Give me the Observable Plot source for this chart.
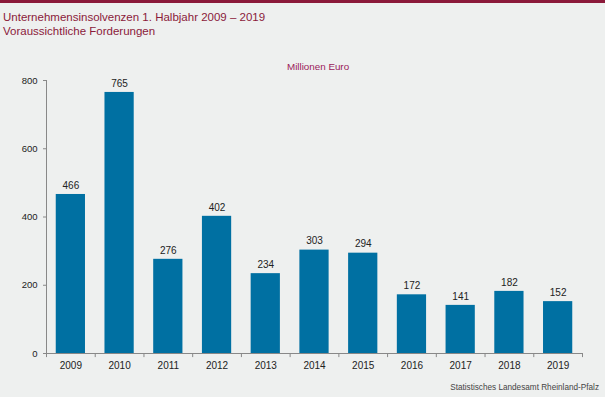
<!DOCTYPE html>
<html><head><meta charset="utf-8">
<script src="https://cdn.jsdelivr.net/npm/d3@7"></script>
<script src="https://cdn.jsdelivr.net/npm/@observablehq/plot@0.6"></script>
<style>
html,body{margin:0;padding:0;background:#eef0ef;}
#wrap{position:relative;width:605px;height:397px;overflow:hidden;background:#eef0ef;font-family:"Liberation Sans",Arial,sans-serif;}
#topbar{position:absolute;left:0;top:0;width:605px;height:3px;background:#8b1a3a;}
.t{position:absolute;white-space:nowrap;}
#title{left:3px;top:10px;font-size:11.5px;color:#8b1a3a;line-height:14px;}
#unit{left:287px;top:61px;font-size:9.8px;color:#9b1b5a;}
#src{right:6px;top:383px;font-size:8.2px;color:#444;}
svg{position:absolute;left:0;top:0;}
</style></head>
<body><div id="wrap"><div id="topbar"></div>
<div class="t" id="title">Unternehmensinsolvenzen 1. Halbjahr 2009 – 2019<br>Voraussichtliche Forderungen</div>
<div class="t" id="unit">Millionen Euro</div>
<div class="t" id="src">Statistisches Landesamt Rheinland-Pfalz</div>
</div>
<script>
const years = ["2009","2010","2011","2012","2013","2014","2015","2016","2017","2018","2019"];
const values = [466,765,276,402,234,303,294,172,141,182,152];
const yTicks = [0,200,400,600,800];
const data = years.map((y,i)=>({year:y,value:values[i]}));
const mL=46,mR=23,W=605;
const step=(W-mL-mR)/years.length;
const chart = Plot.plot({
  width:W,height:397,marginTop:80,marginBottom:44,marginLeft:mL,marginRight:mR,
  style:{background:"transparent",fontFamily:"Liberation Sans, Arial, sans-serif",fontSize:"10px",color:"#222"},
  x:{domain:years,paddingInner:0.4,paddingOuter:0.2,round:false,label:null},
  y:{domain:[0,800],label:null},
  marks:[
    Plot.barY(data,{x:"year",y:"value",fill:"#0070a2"}),
    Plot.text(data,{x:"year",y:"value",text:d=>String(d.value),dy:-9,fill:"#222",fontSize:10}),
    Plot.ruleY([0],{stroke:"#888"}),
    Plot.ruleX([0],{x:()=>years[0],dx:-step/2,y1:0,y2:800,stroke:"#888"}),
    Plot.ruleX(years,{dx:-step/2,y1:0,y2:-12,stroke:"#888"}),
    Plot.ruleX([years[years.length-1]],{dx:step/2,y1:0,y2:-12,stroke:"#888"}),
    Plot.axisX({tickSize:0,tickPadding:8,fill:"#222",fontSize:10}),
    Plot.axisY({ticks:yTicks,tickSize:3,tickPadding:6,stroke:"#888",fill:"#222",fontSize:9.5,tickFormat:d=>String(d)})
  ]
});
document.getElementById("wrap").appendChild(chart);
</script></body></html>
